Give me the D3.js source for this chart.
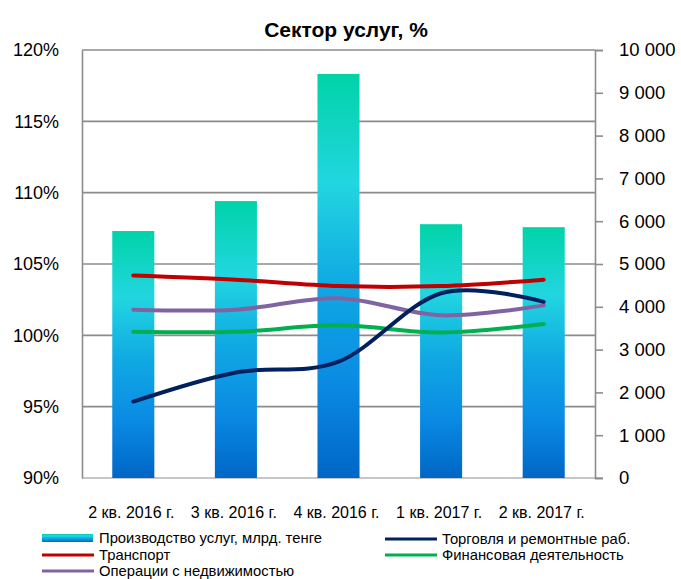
<!DOCTYPE html>
<html>
<head>
<meta charset="utf-8">
<script src="https://cdn.jsdelivr.net/npm/d3@7"></script>
<style>
  body { margin: 0; background: #fff; }
  text { font-family: "Liberation Sans", Arial, sans-serif; fill: #000; }
</style>
</head>
<body>
<div id="chart"></div>
<script>
// data
var quarters = ["2 кв. 2016 г.", "3 кв. 2016 г.", "4 кв. 2016 г.", "1 кв. 2017 г.", "2 кв. 2017 г."]
var services = [5770, 6470, 9440, 5930, 5860]          // bars, right axis
var trade = [95.35, 97.4, 98.15, 102.95, 102.35]       // lines, left axis (%)
var transport = [104.2, 103.9, 103.45, 103.45, 103.9]
var finance = [100.25, 100.25, 100.7, 100.2, 100.8]
var realty = [101.8, 101.8, 102.6, 101.4, 102.1]
var leftTicks = [90, 95, 100, 105, 110, 115, 120]
var rightTicks = [0, 1000, 2000, 3000, 4000, 5000, 6000, 7000, 8000, 9000, 10000]

var lineSeries = [
    {name: "Торговля и ремонтные раб.", values: trade, color: "#002060"},
    {name: "Транспорт", values: transport, color: "#C00000"},
    {name: "Финансовая деятельность", values: finance, color: "#00B050"},
    {name: "Операции с недвижимостью", values: realty, color: "#8064A2"}
]

function drawChart() {
    var W = 681, H = 579
    var pLeft = 82, pRight = 595, pTop = 50, pBottom = 478

    var svg = d3.select("#chart").append("svg")
        .attr("width", W)
        .attr("height", H)

    // bar gradient
    var defs = svg.append("defs")
    var grad = defs.append("linearGradient")
        .attr("id", "barGrad")
        .attr("x1", 0).attr("y1", 0).attr("x2", 0).attr("y2", 1)
    grad.selectAll("stop")
        .data([[0, "#00D3A8"], [0.27, "#22D6E0"], [0.52, "#10A9E3"], [0.77, "#0A8AE3"], [1, "#0066C6"]])
        .enter().append("stop")
        .attr("offset", function (d) { return d[0] })
        .attr("stop-color", function (d) { return d[1] })

    // scales
    var x = d3.scaleBand()
        .domain(quarters)
        .range([pLeft, pRight])
        .paddingInner(0.59)
        .paddingOuter(0.295)

    var yL = d3.scaleLinear().domain([90, 120]).range([pBottom, pTop])
    var yR = d3.scaleLinear().domain([0, 10000]).range([pBottom, pTop])

    // grid lines
    svg.append("g")
        .selectAll("line")
        .data(leftTicks.slice(1))
        .enter().append("line")
        .attr("x1", pLeft).attr("x2", pRight)
        .attr("y1", function (d) { return yL(d) })
        .attr("y2", function (d) { return yL(d) })
        .attr("stroke", "#8c8c8c")
        .attr("stroke-width", 1.6)

    // bottom line
    svg.append("line")
        .attr("x1", pLeft).attr("x2", pRight + 8)
        .attr("y1", pBottom).attr("y2", pBottom)
        .attr("stroke", "#b4b4b4")
        .attr("stroke-width", 1.6)

    // left axis
    var axL = svg.append("g")
        .attr("transform", "translate(" + pLeft + ",0)")
        .call(d3.axisLeft(yL).tickValues(leftTicks).tickSize(0).tickPadding(23)
            .tickFormat(function (d) { return d + "%" }))
    axL.select(".domain").attr("stroke", "#8c8c8c").attr("stroke-width", 1.6)
    axL.selectAll("text").style("font-size", "18px")

    // right axis
    var axR = svg.append("g")
        .attr("transform", "translate(" + pRight + ",0)")
        .call(d3.axisRight(yR).tickValues(rightTicks).tickSize(8).tickPadding(16)
            .tickFormat(function (d) { return d3.format(",")(d).replace(/,/g, "\u00a0") }))
    axR.select(".domain").attr("stroke", "#8c8c8c").attr("stroke-width", 1.6)
    axR.selectAll(".tick line").attr("stroke", "#8c8c8c").attr("stroke-width", 1.6)
    axR.selectAll("text").style("font-size", "18.5px")

    // bars
    svg.append("g")
        .selectAll("rect")
        .data(services)
        .enter().append("rect")
        .attr("x", function (d, i) { return x(quarters[i]) })
        .attr("y", function (d) { return yR(d) })
        .attr("width", x.bandwidth())
        .attr("height", function (d) { return pBottom - yR(d) })
        .attr("fill", "url(#barGrad)")

    // smoothed lines
    var line = d3.line()
        .x(function (d, i) { return x(quarters[i]) + x.bandwidth() / 2 })
        .y(function (d) { return yL(d) })
        .curve(d3.curveCatmullRom.alpha(0))

    var drawOrder = [lineSeries[1], lineSeries[2], lineSeries[3], lineSeries[0]]
    svg.append("g")
        .selectAll("path")
        .data(drawOrder)
        .enter().append("path")
        .attr("d", function (d) { return line(d.values) })
        .attr("fill", "none")
        .attr("stroke", function (d) { return d.color })
        .attr("stroke-width", 4)
        .attr("stroke-linecap", "round")

    // category labels
    svg.append("g")
        .selectAll("text")
        .data(quarters)
        .enter().append("text")
        .attr("x", function (d) { return x(d) + x.bandwidth() / 2 - 2 })
        .attr("y", 518)
        .attr("text-anchor", "middle")
        .style("font-size", "16px")
        .text(function (d) { return d })

    // title
    svg.append("text")
        .attr("x", 346)
        .attr("y", 37)
        .attr("text-anchor", "middle")
        .style("font-size", "21px")
        .style("font-weight", "bold")
        .text("Сектор услуг, %")

    // legend
    var legend = svg.append("g").style("font-size", "14.8px")
    var legItems = [
        {name: "Производство услуг, млрд. тенге", bar: true, x: 42, y: 538},
        {name: lineSeries[0].name, color: lineSeries[0].color, x: 385, y: 539},
        {name: lineSeries[1].name, color: lineSeries[1].color, x: 42, y: 555},
        {name: lineSeries[2].name, color: lineSeries[2].color, x: 385, y: 555},
        {name: lineSeries[3].name, color: lineSeries[3].color, x: 42, y: 571}
    ]
    legItems.forEach(function (d) {
        if (d.bar) {
            legend.append("rect")
                .attr("x", d.x).attr("y", d.y - 4)
                .attr("width", 51).attr("height", 8)
                .attr("fill", "url(#barGrad)")
        } else {
            legend.append("line")
                .attr("x1", d.x).attr("x2", d.x + 52)
                .attr("y1", d.y).attr("y2", d.y)
                .attr("stroke", d.color)
                .attr("stroke-width", 3)
        }
        legend.append("text")
            .attr("x", d.x + 57)
            .attr("y", d.y + 5)
            .text(d.name)
    })
}

drawChart()
</script>
</body>
</html>
